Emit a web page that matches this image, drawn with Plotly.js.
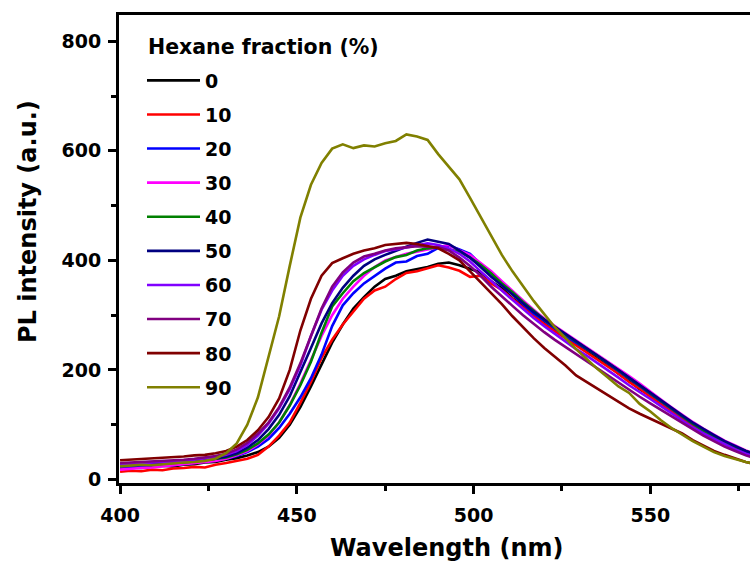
<!DOCTYPE html>
<html>
<head>
<meta charset="utf-8">
<script src="https://cdn.plot.ly/plotly-3.0.1.min.js"></script>
<style>html,body{margin:0;padding:0;background:#fff;}#chart{width:750px;height:568px;}</style>
</head>
<body>
<div id="chart"></div>
<script>
const wavelength = [400,403,406,409,412,415,418,421,424,427,430,433,436,439,442,445,448,451,454,457,460,463,466,469,472,475,478,481,484,487,490,493,496,499,502,505,508,511,514,517,520,523,526,529,532,535,538,541,544,547,550,553,556,559,562,565,568,571,574,577,580];

const hex0 = [20,22,21,24,25,24,27,28,31,32,36,39,44,50,60,76,100,132,170,210,250,283,312,333,352,366,372,380,384,388,394,396,391,385,378,362,349,331,317,300,288,272,262,247,236,221,209,193,180,165,153,139,126,112,99,86,76,66,58,50,44];
const hex10 = [14,16,15,18,17,20,21,23,22,27,30,34,38,45,60,80,104,140,178,222,255,283,306,330,345,352,366,377,380,386,391,387,381,370,372,358,346,330,314,300,284,271,258,245,233,220,207,193,178,166,151,138,124,112,98,87,75,65,57,49,42];
const hex20 = [22,24,23,25,27,26,29,30,33,35,38,43,50,60,74,94,120,150,185,228,280,318,340,358,372,385,396,398,408,412,423,427,420,412,393,375,358,338,320,303,290,276,262,250,238,226,212,198,184,170,157,142,129,115,102,89,79,68,60,51,45];
const hex30 = [18,20,21,22,24,25,27,29,31,34,38,44,52,64,80,104,136,175,218,262,300,330,352,372,388,400,406,412,416,420,425,428,418,410,395,380,362,344,327,310,294,280,267,254,242,229,216,202,189,175,160,146,132,118,105,93,82,71,62,53,47];
const hex40 = [25,26,27,28,28,30,31,33,35,37,40,46,54,66,82,104,135,172,215,268,316,340,362,377,388,398,406,410,418,422,424,420,416,405,392,376,358,342,324,308,292,278,265,252,240,227,213,199,185,171,157,143,129,116,102,90,79,69,60,52,46];
const hex50 = [26,27,28,29,30,31,33,34,36,38,42,48,58,72,92,118,152,195,240,285,322,350,372,390,402,410,418,425,432,438,434,430,418,405,388,370,354,338,322,306,292,279,266,252,240,227,214,200,186,172,158,144,131,117,104,92,81,70,61,52,45];
const hex60 = [28,29,30,30,32,33,34,36,38,41,45,52,63,80,102,130,165,208,262,310,345,372,390,402,410,417,420,424,428,431,428,422,412,398,380,362,345,328,311,295,280,266,252,238,226,213,200,186,172,160,147,134,121,108,95,84,74,64,55,47,41];
const hex70 = [30,31,31,33,34,35,36,38,40,43,47,55,67,84,104,132,168,212,262,312,352,378,396,407,412,418,422,424,426,425,424,418,405,390,372,352,334,317,300,284,269,255,242,228,215,202,190,176,163,151,139,127,115,103,91,80,70,60,52,44,38];
const hex80 = [35,36,37,38,39,40,42,44,45,48,52,60,72,90,114,148,200,272,330,372,395,404,412,418,422,428,430,432,430,426,422,412,400,380,360,340,320,298,278,258,240,224,208,190,178,165,153,141,130,120,111,102,93,84,72,62,52,45,38,32,28];
const hex90 = [24,25,27,26,28,29,31,32,34,38,48,66,100,150,222,298,390,478,538,578,604,612,605,610,608,614,618,630,626,620,594,572,548,514,480,446,410,380,352,326,302,278,258,238,220,202,186,170,158,138,124,108,94,82,70,60,50,43,37,32,28];

const seriesNames = ['0','10','20','30','40','50','60','70','80','90'];
const seriesValues = [hex0,hex10,hex20,hex30,hex40,hex50,hex60,hex70,hex80,hex90];
const seriesColors = ['#000000','#FF0000','#0000FF','#FF00FF','#008000','#000080','#8000FF','#800080','#800000','#808000'];
const legendTitle = 'Hexane fraction (%)';

const FONT = 'DejaVu Sans, Arial, sans-serif';
const W = 750, H = 568, ML = 119, MR = 0, MT = 15, MB = 85;
const PW = W - ML - MR, PH = H - MT - MB;
const px = v => (v - ML) / PW;
const py = v => (H - MB - v) / PH;

const traces = seriesNames.map((n,i)=>({
  type:'scatter', mode:'lines', name:n, x:wavelength, y:seriesValues[i],
  line:{color:seriesColors[i], width:2.6}, legendgroup:'g'+i
}));

const layout = {
  width:W, height:H,
  margin:{l:ML, r:MR, t:MT, b:MB},
  paper_bgcolor:'#fff', plot_bgcolor:'#fff',
  showlegend:true,
  legend:{
    x:px(142), y:py(61.5), xanchor:'left', yanchor:'top',
    bgcolor:'rgba(0,0,0,0)', borderwidth:0,
    itemwidth:53, tracegroupgap:6.4,
    font:{family:FONT, size:19, color:'#000', weight:'bold'}
  },
  xaxis:{
    range:[399.7, 578.2], tickmode:'linear', tick0:400, dtick:50,
    showline:true, linewidth:3, linecolor:'#000', mirror:true,
    ticks:'outside', ticklen:8, tickwidth:3, tickcolor:'#000',
    ticklabelstandoff:5,
    minor:{dtick:25, tick0:400, ticks:'outside', ticklen:5, tickwidth:3, tickcolor:'#000'},
    showgrid:false, zeroline:false,
    tickfont:{family:FONT, size:19, color:'#000', weight:'bold'}
  },
  yaxis:{
    range:[-6.4, 848], tickmode:'linear', tick0:0, dtick:200,
    showline:true, linewidth:3, linecolor:'#000', mirror:false,
    ticks:'outside', ticklen:8, tickwidth:3, tickcolor:'#000',
    ticklabelstandoff:3,
    minor:{dtick:100, tick0:0, ticks:'outside', ticklen:5, tickwidth:3, tickcolor:'#000'},
    showgrid:false, zeroline:false,
    tickfont:{family:FONT, size:19, color:'#000', weight:'bold'}
  },
  annotations:[
    {text:legendTitle, xref:'paper', yref:'paper', x:px(146), y:py(47), xanchor:'left', yanchor:'middle', showarrow:false,
     font:{family:FONT, size:20.5, color:'#000', weight:'bold'}},
    {text:'Wavelength (nm)', xref:'paper', yref:'paper', x:px(446), y:py(548), xanchor:'center', yanchor:'middle', showarrow:false,
     font:{family:FONT, size:24, color:'#000', weight:'bold'}},
    {text:'PL intensity (a.u.)', xref:'paper', yref:'paper', x:px(27.5), y:py(221.5), xanchor:'center', yanchor:'middle', showarrow:false, textangle:-90,
     font:{family:FONT, size:24, color:'#000', weight:'bold'}}
  ]
};

Plotly.newPlot('chart', traces, layout, {displayModeBar:false, staticPlot:true});
</script>
</body>
</html>
